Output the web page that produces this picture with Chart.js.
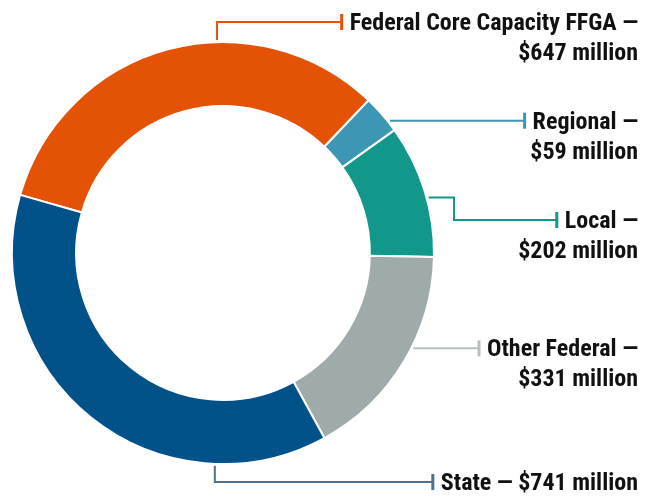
<!DOCTYPE html>
<html>
<head>
<meta charset="utf-8">
<script src="https://cdn.jsdelivr.net/npm/chart.js@4"></script>
<style>
  html, body { margin: 0; padding: 0; background: #fff; }
  #wrap { width: 655px; height: 498px; }
</style>
</head>
<body>
<div id="wrap"><canvas id="donut" width="655" height="498"></canvas></div>
<script>
// Funding sources ($ millions)
var categories = ["Federal Core Capacity FFGA", "Regional", "Local", "Other Federal", "State"];
var amounts = [647, 59, 202, 331, 741];
var sliceColors = ["#e35205", "#3c96b4", "#12988a", "#9eabaa", "#02528a"];
var leaderColors = ["#e35205", "#3c96b4", "#12988a", "#b8c1c1", "#4f7089"];

// leader line layout: angle (deg clockwise from top) where the line leaves the ring,
// lineY = y of the horizontal run (null = same as anchor), elbowX for a stepped line
var leaders = [
    { angle: -1.6, lineY: 22, twoLines: true },
    { angle: 51.6, lineY: null, twoLines: true },
    { angle: 74.9, lineY: 220, elbowX: 454, twoLines: true },
    { angle: 116.6, lineY: null, twoLines: true },
    { angle: 182.2, lineY: 482, twoLines: false }
];

var FONT = "bold 24px 'Roboto Condensed', 'Liberation Sans Narrow', 'DejaVu Sans Condensed', 'Arial Narrow', sans-serif";

var leaderPlugin = {
    id: "leaders",
    afterDatasetsDraw: function (chart) {
        var ctx = chart.ctx;
        var meta = chart.getDatasetMeta(0);
        ctx.save();
        ctx.font = FONT;
        ctx.textBaseline = "alphabetic";
        meta.data.forEach(function (arc, i) {
            var cfg = leaders[i];
            var label = categories[i] + " \u2014";
            var value = "$" + amounts[i] + " million";
            var a = cfg.angle * Math.PI / 180;
            var r = arc.outerRadius + 2;
            var ax = arc.x + r * Math.sin(a);
            var ay = arc.y - r * Math.cos(a);
            var lineY = cfg.lineY == null ? ay : cfg.lineY;
            var right = 638;
            var first = cfg.twoLines ? label : label + " " + value;
            var w = ctx.measureText(first).width;
            var textLeft = right - w;
            var capX = textLeft - 8;

            ctx.strokeStyle = leaderColors[i];
            ctx.lineWidth = 2;
            ctx.beginPath();
            ctx.moveTo(ax, ay);
            if (cfg.elbowX) {
                ctx.lineTo(cfg.elbowX, ay);
                ctx.lineTo(cfg.elbowX, lineY);
            } else {
                ctx.lineTo(ax, lineY);
            }
            ctx.lineTo(capX, lineY);
            ctx.stroke();
            ctx.lineWidth = 3;
            ctx.beginPath();
            ctx.moveTo(capX, lineY - 8);
            ctx.lineTo(capX, lineY + 8);
            ctx.stroke();

            ctx.fillStyle = "#111";
            ctx.textAlign = "right";
            var base = lineY + 8;
            ctx.fillText(first, right, base);
            if (cfg.twoLines) {
                ctx.fillText(value, right, base + 30);
            }
        });
        ctx.restore();
    }
};

new Chart(document.getElementById("donut").getContext("2d"), {
    type: "doughnut",
    data: {
        labels: categories,
        datasets: [{
            data: amounts,
            backgroundColor: sliceColors,
            borderColor: "#ffffff",
            borderWidth: 2
        }]
    },
    options: {
        responsive: false,
        animation: false,
        rotation: -74,
        radius: 211,
        cutout: "69.6%",
        layout: { padding: { left: 0, right: 209, top: 8, bottom: 0 } },
        plugins: {
            legend: { display: false },
            tooltip: { enabled: false }
        }
    },
    plugins: [leaderPlugin]
});
</script>
</body>
</html>
